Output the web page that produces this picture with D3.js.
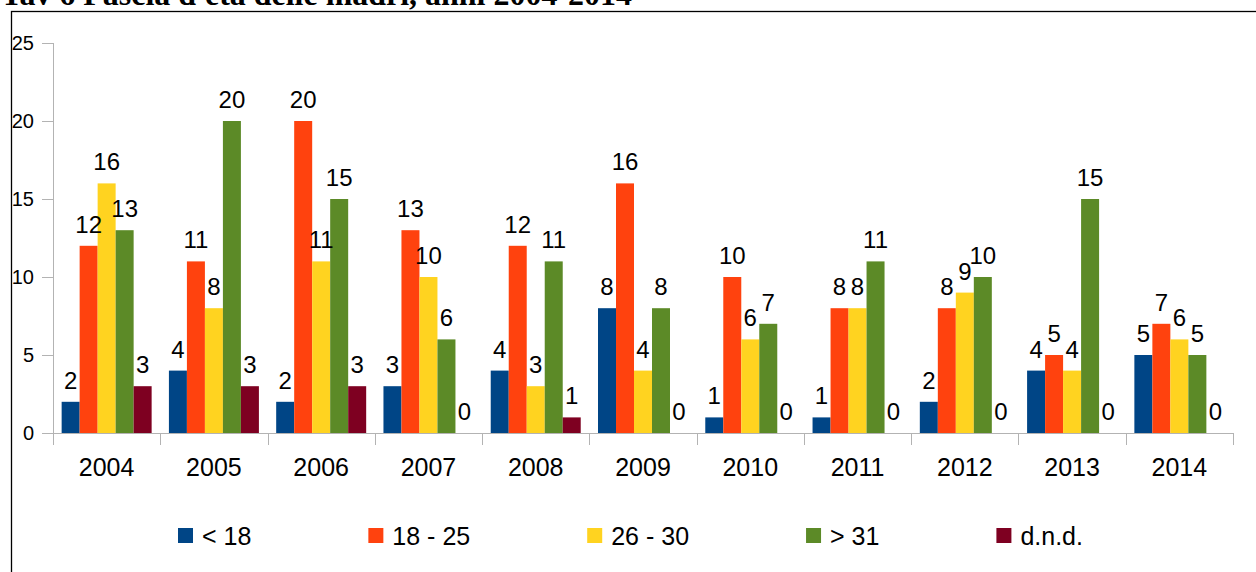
<!DOCTYPE html>
<html>
<head>
<meta charset="utf-8">
<script src="https://cdn.jsdelivr.net/npm/d3@7"></script>
<style>
  body { margin: 0; background: #fff; }
  svg { display: block; }
  text { font-family: "Liberation Sans", Arial, sans-serif; fill: #000; }
  .title { font-family: "Liberation Serif", "Times New Roman", serif; font-weight: bold; }
</style>
</head>
<body>
<div id="chart"></div>
<script>
// chart data
const years = ["2004", "2005", "2006", "2007", "2008", "2009", "2010", "2011", "2012", "2013", "2014"];
const seriesNames = ["< 18", "18 - 25", "26 - 30", "> 31", "d.n.d."];
const under18 = [2, 4, 2, 3, 4, 8, 1, 1, 2, 4, 5];
const from18to25 = [12, 11, 20, 13, 12, 16, 10, 8, 8, 5, 7];
const from26to30 = [16, 8, 11, 10, 3, 4, 6, 8, 9, 4, 6];
const over31 = [13, 20, 15, 6, 11, 8, 7, 11, 10, 15, 5];
const notAvailable = [3, 3, 3, 0, 1, 0, 0, 0, 0, 0, 0];
const yTicks = [0, 5, 10, 15, 20, 25];
const titleText = "Tav 6  Fascia d'età delle madri, anni 2004-2014";

const seriesValues = [under18, from18to25, from26to30, over31, notAvailable];
const colors = ["#004586", "#ff420e", "#ffd320", "#5c8a27", "#7e0021"];

const width = 1256, height = 572;
const margin = {top: 43, left: 53, right: 23, bottom: 139};

const svg = d3.select("#chart").append("svg")
    .attr("width", width)
    .attr("height", height);

// title (cut off at the top like the source)
svg.append("text")
    .attr("class", "title")
    .attr("x", 1)
    .attr("y", 5)
    .attr("font-size", 31)
    .attr("textLength", 631)
    .attr("lengthAdjust", "spacingAndGlyphs")
    .text(titleText);

// frame
svg.append("rect")
    .attr("x", 11.5)
    .attr("y", 11.5)
    .attr("width", 1400)
    .attr("height", 700)
    .attr("fill", "none")
    .attr("stroke", "#000")
    .attr("stroke-width", 1.3);

// scales
const x0 = d3.scaleBand()
    .domain(years)
    .range([margin.left, width - margin.right])
    .padding(0);

const x1 = d3.scaleBand()
    .domain(d3.range(seriesNames.length))
    .range([0, x0.bandwidth()])
    .paddingInner(0)
    .paddingOuter(0.48);

const y = d3.scaleLinear()
    .domain([0, 25])
    .range([height - margin.bottom, margin.top]);

const axisColor = "#b3b3b3";

// y axis
const yAxis = d3.axisLeft(y).tickValues(yTicks).tickSize(11).tickPadding(8);
const gy = svg.append("g")
    .attr("transform", "translate(" + margin.left + ",0)")
    .call(yAxis);
gy.select(".domain").attr("stroke", axisColor).attr("d", "M0.5," + y(25) + "V" + (y(0) + 12));
gy.selectAll(".tick line").attr("stroke", axisColor).attr("x2", -11);
gy.selectAll(".tick text")
    .attr("font-size", 20)
    .attr("font-family", "Liberation Sans, Arial, sans-serif")
    .attr("fill", "#000");

// x axis line and category separators
const gx = svg.append("g");
gx.append("line")
    .attr("x1", margin.left - 11)
    .attr("x2", width - margin.right)
    .attr("y1", y(0) + 0.5)
    .attr("y2", y(0) + 0.5)
    .attr("stroke", axisColor);
gx.selectAll(".sep")
    .data(years.concat(["end"]))
    .enter()
    .append("line")
    .attr("class", "sep")
    .attr("x1", (d, i) => Math.round(margin.left + i * x0.bandwidth()) + 0.5)
    .attr("x2", (d, i) => Math.round(margin.left + i * x0.bandwidth()) + 0.5)
    .attr("y1", y(0))
    .attr("y2", y(0) + 12)
    .attr("stroke", axisColor);
gx.selectAll(".cat")
    .data(years)
    .enter()
    .append("text")
    .attr("class", "cat")
    .attr("x", d => x0(d) + x0.bandwidth() / 2)
    .attr("y", y(0) + 43)
    .attr("text-anchor", "middle")
    .attr("font-size", 25)
    .text(d => d);

// bars
const groups = svg.selectAll(".year")
    .data(years)
    .enter()
    .append("g")
    .attr("class", "year")
    .attr("transform", d => "translate(" + x0(d) + ",0)");

const cells = groups.selectAll(".cell")
    .data((d, i) => seriesValues.map((vals, s) => ({s: s, value: vals[i]})))
    .enter();

cells.append("rect")
    .attr("x", d => x1(d.s))
    .attr("width", x1.bandwidth())
    .attr("y", d => y(d.value))
    .attr("height", d => y(0) - y(d.value))
    .attr("fill", d => colors[d.s]);

// value labels
cells.append("text")
    .attr("x", d => x1(d.s) + x1.bandwidth() / 2)
    .attr("y", d => y(d.value) - 13)
    .attr("text-anchor", "middle")
    .attr("font-size", 24)
    .text(d => d.value);

// legend
const legend = svg.append("g").attr("class", "legend");
let lx = 178;
seriesNames.forEach((name, i) => {
    const item = legend.append("g").attr("transform", "translate(" + lx + ",0)");
    item.append("rect")
        .attr("x", 0)
        .attr("y", 528)
        .attr("width", 15)
        .attr("height", 15)
        .attr("fill", colors[i]);
    const t = item.append("text")
        .attr("x", 24)
        .attr("y", 545)
        .attr("font-size", 25)
        .text(name);
    lx += 24 + t.node().getComputedTextLength() + 117;
});
</script>
</body>
</html>
